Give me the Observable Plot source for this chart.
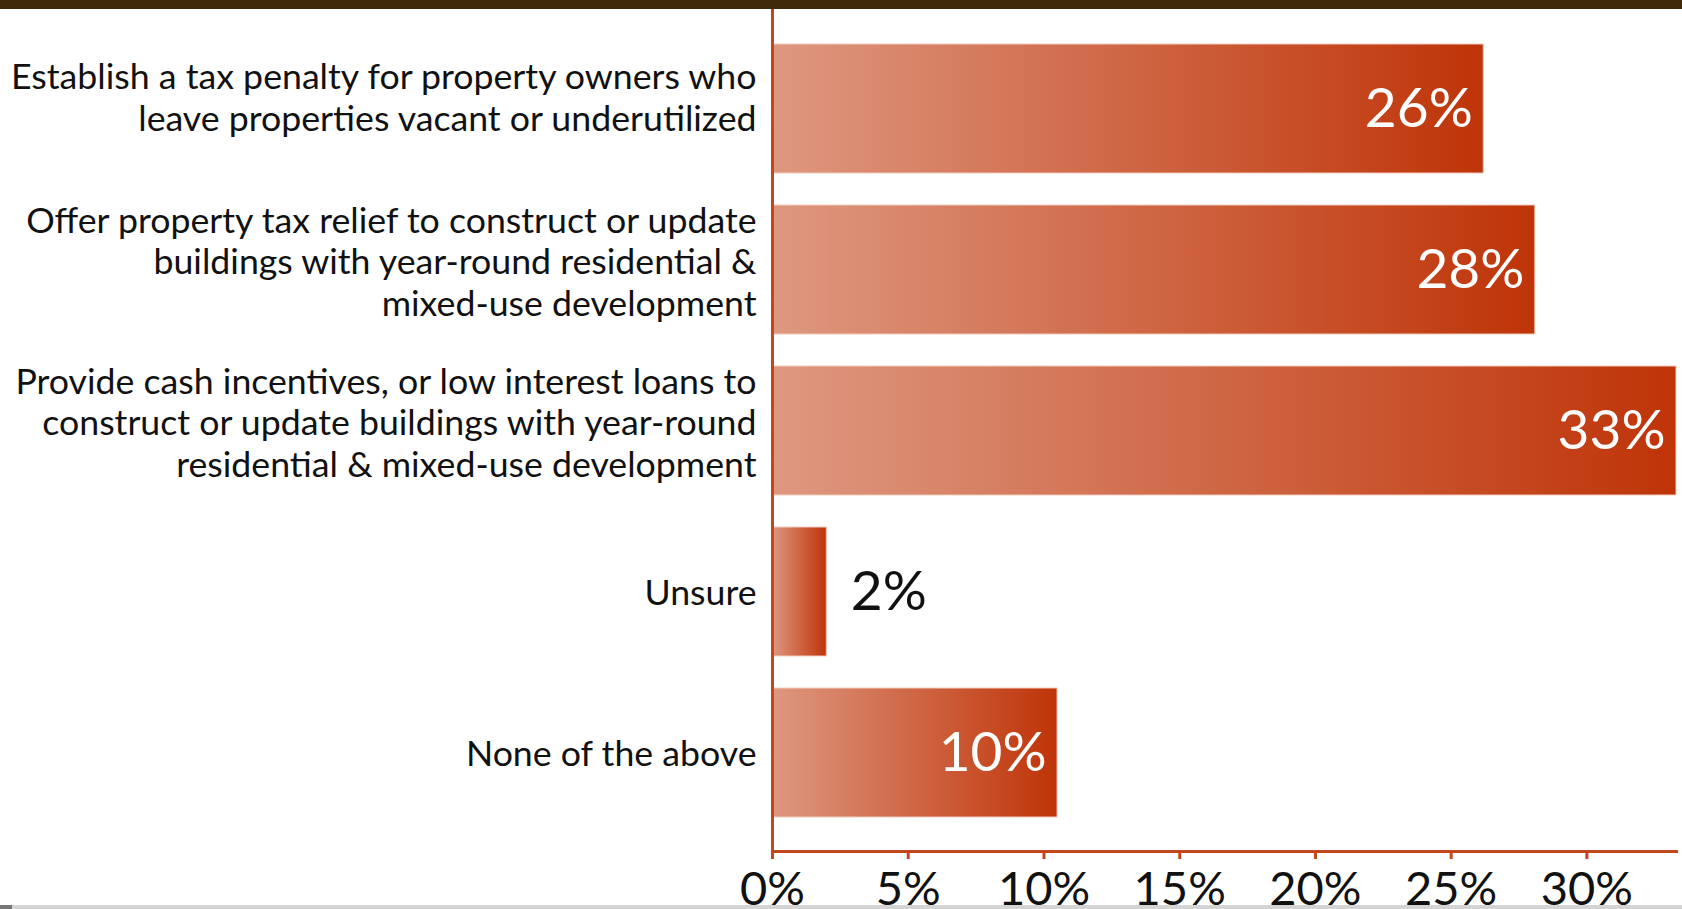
<!DOCTYPE html>
<html>
<head>
<meta charset="utf-8">
<script src="https://cdn.jsdelivr.net/npm/d3@7"></script>
<script src="https://cdn.jsdelivr.net/npm/@observablehq/plot@0.6"></script>
<style>
  html, body { margin: 0; padding: 0; background: #fff; overflow: hidden; }
  #wrap { position: relative; width: 1682px; height: 909px; overflow: hidden; }
  #topbar { position: absolute; left: 0; top: 0; width: 1682px; height: 9px; background: #3d2a0a; }
  #bottombar { position: absolute; left: 0; bottom: 0; width: 1682px; height: 4px; background: #d4d4d4; }
  #bottombar span { position: absolute; left: 0; top: 0; width: 12px; height: 4px; background: #777; }
  #chart svg { display: block; }
</style>
</head>
<body>
<div id="wrap">
  <div id="chart"></div>
  <div id="topbar"></div>
  <div id="bottombar"><span></span></div>
</div>
<script>
const categories = [
  "Establish a tax penalty for property owners who\nleave properties vacant or underutilized",
  "Offer property tax relief to construct or update\nbuildings with year-round residential &\nmixed-use development",
  "Provide cash incentives, or low interest loans to\nconstruct or update buildings with year-round\nresidential & mixed-use development",
  "Unsure",
  "None of the above"
];
const values = [26.2, 28.1, 33.3, 2.0, 10.5];
const valueLabels = ["26%", "28%", "33%", "2%", "10%"];
const tickValues = [0, 5, 10, 15, 20, 25, 30];

const data = categories.map((c, i) => ({category: c, value: values[i], label: valueLabels[i], lines: c.split("\n").length}));
const axisColor = "#c4461c";
const font = "Lato, 'Open Sans', sans-serif";
const labelOpts = {x: 0, y: "category", text: "category", textAnchor: "end", dx: -16, fill: "#111", fontSize: 35.7, lineHeight: 1.17};

const plot = Plot.plot({
  width: 1682,
  height: 909,
  marginLeft: 772,
  marginRight: 6,
  marginTop: 9,
  marginBottom: 58,
  style: {fontFamily: font, background: "transparent", overflow: "visible"},
  x: {domain: [0, 33.3], axis: null},
  y: {domain: categories, axis: null, paddingInner: 0.2, paddingOuter: 0.2},
  marks: [
    Plot.barX(data, {x: "value", y: "category", fill: "url(#barGrad)", stroke: "#f1cbbd", strokeWidth: 1}),
    Plot.text(data.filter(d => d.value >= 5), {x: "value", y: "category", text: "label", textAnchor: "end", dx: -11, fill: "#fff", fontSize: 55}),
    Plot.text(data.filter(d => d.value < 5), {x: "value", y: "category", text: "label", textAnchor: "start", dx: 24, fill: "#111", fontSize: 55}),
    Plot.text(data.filter(d => d.lines === 1), {...labelOpts, dy: 0}),
    Plot.text(data.filter(d => d.lines === 2), {...labelOpts, dy: -12}),
    Plot.text(data.filter(d => d.lines === 3), {...labelOpts, dy: -9}),
    Plot.axisX({ticks: tickValues, tickFormat: d => d + "%", label: null, tickSize: 8, tickPadding: 12, stroke: axisColor, strokeWidth: 3, fill: "#111", fontSize: 47}),
    Plot.frame({anchor: "bottom", stroke: axisColor, strokeWidth: 3}),
    Plot.ruleX([0], {stroke: axisColor, strokeWidth: 3})
  ]
});

const svg = d3.select(plot);
const defs = svg.insert("defs", ":first-child");
const grad = defs.append("linearGradient").attr("id", "barGrad").attr("x1", "0").attr("x2", "1").attr("y1", "0").attr("y2", "0");
grad.append("stop").attr("offset", "0%").attr("stop-color", "#de9880");
grad.append("stop").attr("offset", "100%").attr("stop-color", "#bf3408");

document.getElementById("chart").appendChild(plot);
</script>
</body>
</html>
